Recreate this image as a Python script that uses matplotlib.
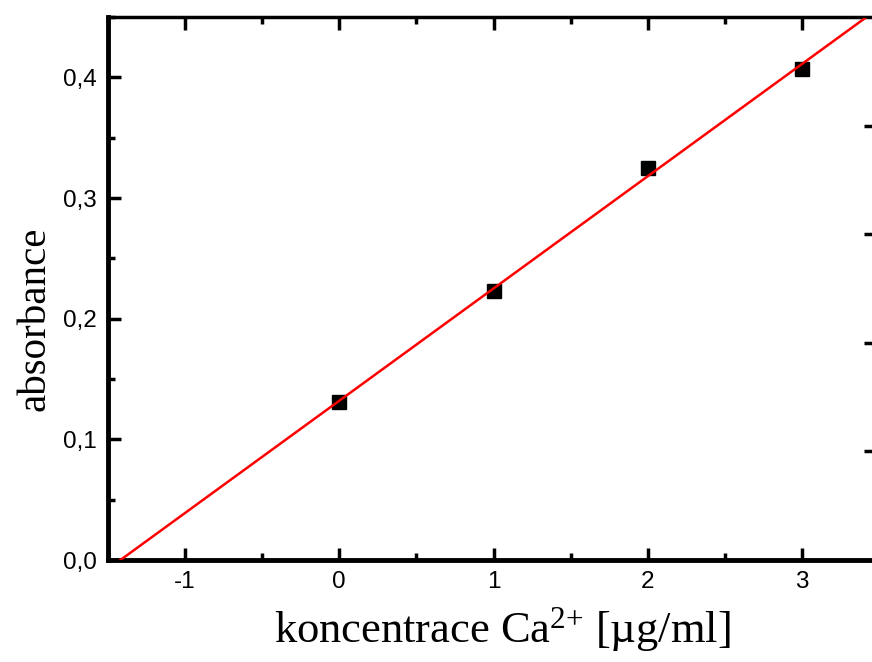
import numpy as np
import matplotlib
matplotlib.use("Agg")
import matplotlib.pyplot as plt
from matplotlib.ticker import MultipleLocator, FuncFormatter

plt.rcParams['mathtext.fontset'] = 'custom'
plt.rcParams['mathtext.rm'] = 'Liberation Serif'
plt.rcParams['mathtext.it'] = 'Liberation Serif:italic'

# calibration data
conc = [0, 1, 2, 3]
absorb = [0.131, 0.223, 0.325, 0.407]
x_ticks = [-1, 0, 1, 2, 3]
y_ticks = [0.0, 0.1, 0.2, 0.3, 0.4]
right_ticks = [0.09, 0.18, 0.27, 0.36]

fig = plt.figure(figsize=(8.72, 6.62), dpi=100)
# axes right edge sits just past the figure edge, like the reference crop
ax = fig.add_axes([108 / 872, 1 - 560 / 662, (879 - 108) / 872, (560 - 17) / 662])

# linear fit through the points, drawn across the whole x range
k, q = np.polyfit(conc, absorb, 1)
xs = np.array([-1.5, 3.5])
ax.plot(xs, k * xs + q, color='red', lw=1.8, zorder=3)
ax.plot(conc, absorb, 's', color='black', ms=10, zorder=2)

ax.set_xlim(-1.5, 3.5)
ax.set_ylim(0, 0.45)
ax.set_xticks(x_ticks)
ax.set_yticks(y_ticks)
ax.xaxis.set_minor_locator(MultipleLocator(0.5))
ax.yaxis.set_minor_locator(MultipleLocator(0.05))
ax.xaxis.set_major_formatter(FuncFormatter(lambda v, p: f'{v:.0f}'))
ax.yaxis.set_major_formatter(FuncFormatter(lambda v, p: f'{v:.1f}'.replace('.', ',')))

for side in ['left', 'bottom']:
    ax.spines[side].set_linewidth(3.5)
ax.spines['top'].set_linewidth(2.5)
ax.spines['right'].set_linewidth(2.5)

ax.tick_params(which='major', direction='in', length=9, width=2.5, labelsize=17.5,
               pad=8, top=True)
ax.tick_params(which='minor', direction='in', length=5, width=2.5, top=True)
for lab in ax.get_xticklabels() + ax.get_yticklabels():
    lab.set_family('Liberation Sans')

# right side ticks (no labels)
ax2 = ax.twinx()
ax2.set_ylim(0, 0.45)
ax2.set_yticks(right_ticks)
ax2.set_yticklabels([])
ax2.tick_params(direction='in', length=11, width=2.5)
ax2.spines['right'].set_linewidth(2.5)

ax.set_xlabel('koncentrace Ca$^{2\\text{+}}$ [\u00b5g/ml]', fontsize=32,
              family='Liberation Serif')
ax.set_ylabel('absorbance', fontsize=29.5, family='Liberation Serif')
ax.xaxis.set_label_coords(0.512, -0.083)
ax.yaxis.set_label_coords(-0.071, 0.444)

fig.savefig('out.png', dpi=100)
